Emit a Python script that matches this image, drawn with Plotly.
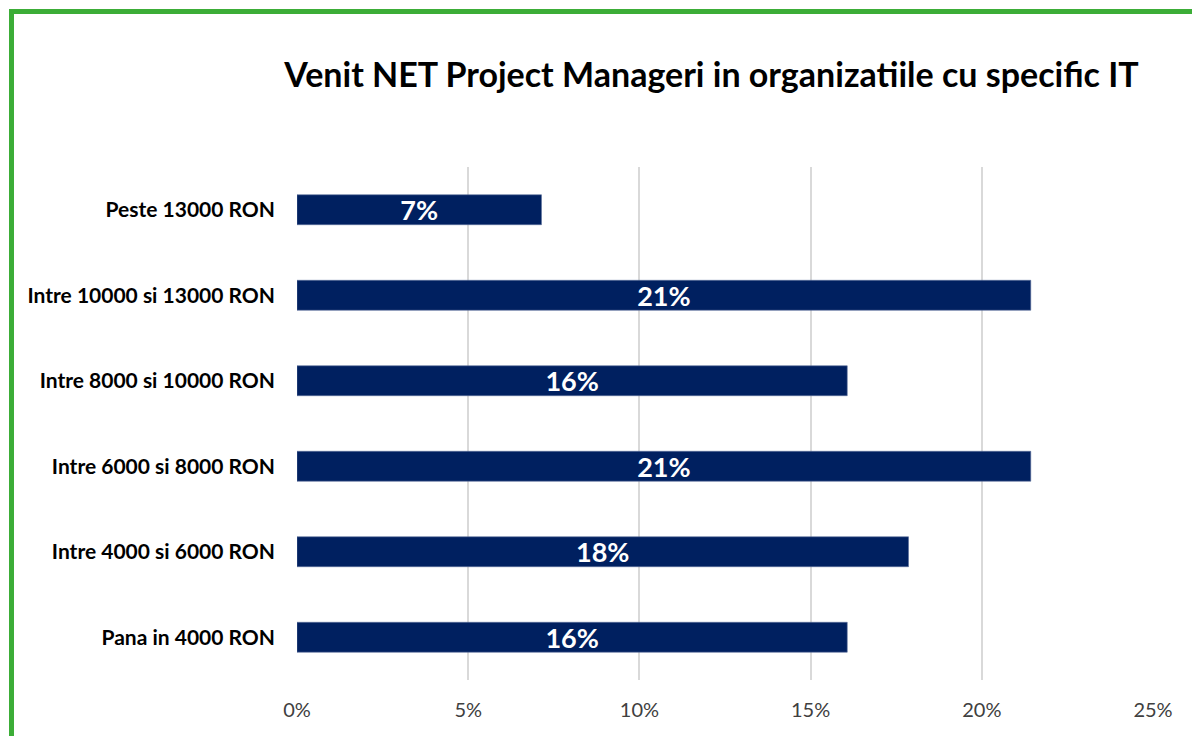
import plotly.graph_objects as go

categories = ["Pana in 4000 RON", "Intre 4000 si 6000 RON", "Intre 6000 si 8000 RON",
              "Intre 8000 si 10000 RON", "Intre 10000 si 13000 RON", "Peste 13000 RON"]
values = [0.1607, 0.1786, 0.2143, 0.1607, 0.2143, 0.0714]
labels = ["16%", "18%", "21%", "16%", "21%", "7%"]
tick_vals = [0, 0.05, 0.10, 0.15, 0.20, 0.25]
tick_text = ["0%", "5%", "10%", "15%", "20%", "25%"]
title = "Venit NET Project Manageri in organizatiile cu specific IT"

FONT = "Lato"
OFF = 8  # page body margin
W, H = 1200, 736
# plot area in page pixels: x 297..1153, y 167..680
L = 297 - OFF
T = 167 - OFF
R = W - (1153 - OFF)
B = H - (680 - OFF)
pw, ph = W - L - R, H - T - B

def px_x(p):  # page px -> paper
    return (p - OFF - L) / pw

def px_y(p):
    return (H - B - (p - OFF)) / ph

fig = go.Figure(go.Bar(
    y=categories, x=values, orientation="h",
    marker=dict(color="#002060", line=dict(color="#5a6f9a", width=0.6)),
    width=0.35,
    text=labels, textposition="inside", insidetextanchor="middle",
    constraintext="none",
    textfont=dict(family=FONT, size=27, color="white", weight="bold"),
    hoverinfo="skip",
))

fig.update_layout(
    width=W, height=H,
    margin=dict(l=L, r=R, t=T, b=B),
    paper_bgcolor="white", plot_bgcolor="white",
    showlegend=False,
    title=dict(text="<b>" + title + "</b>", x=px_x(711.5), xanchor="center",
               xref="paper", y=1 - (75 - OFF) / H, yanchor="middle",
               font=dict(family=FONT, size=34, color="black")),
    xaxis=dict(range=[0, 0.25], tickvals=tick_vals, ticktext=tick_text,
               showgrid=True, gridcolor="#d9d9d9", gridwidth=1.5,
               zeroline=False, showline=False, ticks="",
               ticklabelstandoff=16,
               tickfont=dict(family=FONT, size=20, color="#404040")),
    yaxis=dict(showgrid=False, zeroline=False, showline=False, ticks="",
               ticklabelstandoff=21, range=[-0.5, 5.5],
               tickfont=dict(family=FONT, size=21, color="black", weight="bold")),
    shapes=[dict(type="rect", xref="paper", yref="paper",
                 x0=px_x(11.5), x1=px_x(1240), y0=px_y(790), y1=px_y(11.5),
                 line=dict(color="#3cad37", width=5), fillcolor="rgba(0,0,0,0)",
                 layer="above")],
)

fig.write_html("out.html")
